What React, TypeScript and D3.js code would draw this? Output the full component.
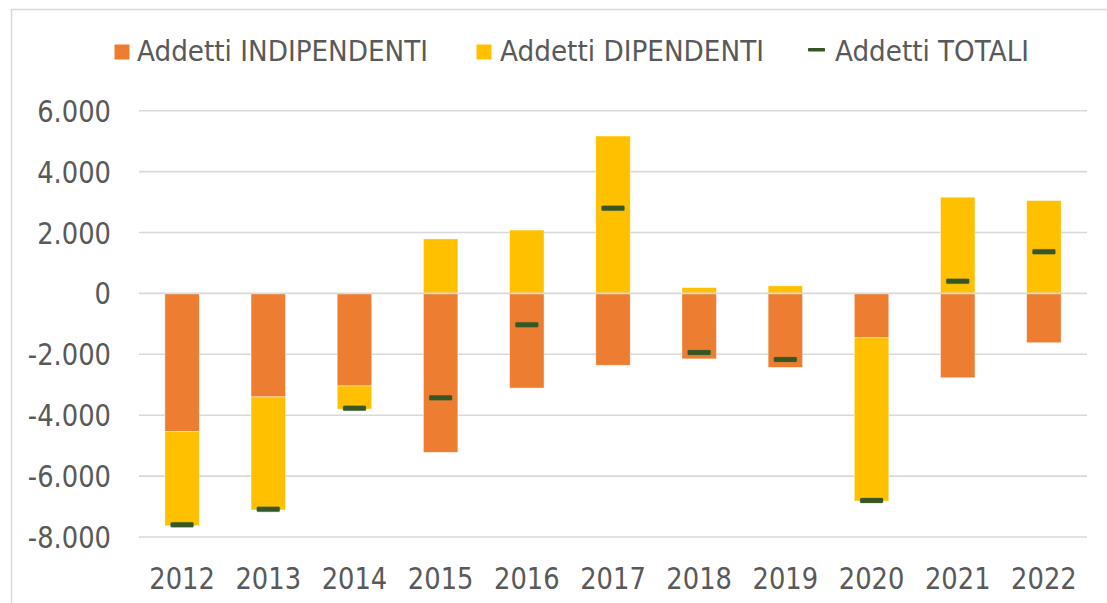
import React from "react";
import * as d3 from "d3";

const years = ["2012", "2013", "2014", "2015", "2016", "2017", "2018", "2019", "2020", "2021", "2022"];
const indipendenti = [-4540, -3400, -3040, -5220, -3110, -2360, -2150, -2430, -1460, -2770, -1620];
const dipendenti = [-3090, -3710, -760, 1790, 2080, 5170, 190, 250, -5360, 3160, 3050];
const totali = [-7600, -7090, -3770, -3430, -1030, 2800, -1940, -2170, -6800, 400, 1370];
const yTicks = [6000, 4000, 2000, 0, -2000, -4000, -6000, -8000];
const legendLabels = ["Addetti INDIPENDENTI", "Addetti DIPENDENTI", "Addetti TOTALI"];

const W = 1107;
const H = 603;
const COL_IND = "#ED7D31";
const COL_DIP = "#FFC000";
const COL_TOT = "#375623";
const GRID = "#d9d9d9";
const TXT = "#595959";
const FONT = "'DejaVu Sans', Verdana, sans-serif";

const fmt = (v: number) => {
  const s = d3.format(",")(v).replace(/,/g, ".").replace("−", "-");
  return s;
};

export default function App() {
  const x = d3.scaleBand<string>().domain(years).range([139, 1087]).paddingInner(0.6).paddingOuter(0.3);
  const y = d3.scaleLinear().domain([-8000, 6000]).range([537, 110.7]);

  const rows = years.map((yr, i) => ({ year: yr, ind: indipendenti[i], dip: dipendenti[i] }));
  const stack = d3.stack<any>().keys(["ind", "dip"]).offset(d3.stackOffsetDiverging);
  const series = stack(rows);
  const colors: Record<string, string> = { ind: COL_IND, dip: COL_DIP };

  const bw = x.bandwidth();
  const dashW = 23;
  const dashH = 5;

  const legend = [
    { label: legendLabels[0], color: COL_IND, kind: "sq", mx: 114.5, tx: 137, tl: 291 },
    { label: legendLabels[1], color: COL_DIP, kind: "sq", mx: 476.5, tx: 500, tl: 264 },
    { label: legendLabels[2], color: COL_TOT, kind: "dash", mx: 808, tx: 835, tl: 194 },
  ];

  return (
    <svg
      width={W}
      height={H}
      style={{ position: "absolute", left: 0, top: 0, background: "#fff" }}
      fontFamily={FONT}
    >
      <rect x={0} y={0} width={W} height={H} fill="#fff" />
      {/* chart frame */}
      <rect x={11.5} y={9.5} width={1300} height={800} fill="none" stroke={GRID} strokeWidth={1.5} />

      {/* gridlines */}
      {yTicks.map((t) =>
        t === 0 ? null : (
          <line key={t} x1={139} x2={1087} y1={y(t)} y2={y(t)} stroke={GRID} strokeWidth={1.6} />
        )
      )}

      {/* bars */}
      {series.map((s) =>
        s.map((d, i) => {
          const y0 = y(Math.max(d[0], d[1]));
          const y1 = y(Math.min(d[0], d[1]));
          return (
            <rect
              key={s.key + i}
              x={(x(years[i]) as number)}
              y={y0}
              width={bw}
              height={Math.max(0, y1 - y0)}
              fill={colors[s.key]}
              stroke="#fff"
              strokeOpacity={0.55}
              strokeWidth={0.8}
            />
          );
        })
      )}

      {/* zero axis line over bars */}
      <line x1={139} x2={1087} y1={y(0)} y2={y(0)} stroke={GRID} strokeWidth={1.6} />

      {/* totals markers */}
      {totali.map((v, i) => (
        <rect
          key={"t" + i}
          x={(x(years[i]) as number) + bw / 2 - dashW / 2}
          y={y(v) - dashH / 2}
          width={dashW}
          height={dashH}
          rx={1.2}
          fill={COL_TOT}
          stroke="#5b7a45"
          strokeOpacity={0.5}
          strokeWidth={0.6}
        />
      ))}

      {/* y tick labels */}
      {yTicks.map((t) => (
        <text
          key={"yl" + t}
          transform={`translate(111,${y(t) + 11}) scale(0.86,1)`}
          textAnchor="end"
          fontSize={30}
          fill={TXT}
        >
          {fmt(t)}
        </text>
      ))}

      {/* x tick labels */}
      {years.map((yr) => (
        <text
          key={"xl" + yr}
          transform={`translate(${(x(yr) as number) + bw / 2},588.5) scale(0.86,1)`}
          textAnchor="middle"
          fontSize={30}
          fill={TXT}
        >
          {yr}
        </text>
      ))}

      {/* legend */}
      {legend.map((l) => (
        <g key={l.label}>
          {l.kind === "sq" ? (
            <rect x={l.mx} y={44.5} width={15} height={15} fill={l.color} />
          ) : (
            <rect x={l.mx} y={48} width={17} height={3.5} rx={0.8} fill={l.color} />
          )}
          <text
            x={l.tx}
            y={61}
            fontSize={29}
            fill={TXT}
            textLength={l.tl}
            lengthAdjust="spacingAndGlyphs"
          >
            {l.label}
          </text>
        </g>
      ))}
    </svg>
  );
}
